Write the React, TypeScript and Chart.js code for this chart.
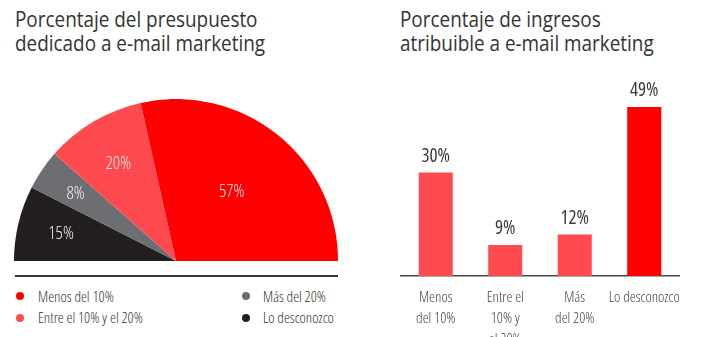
import React, { useEffect, useRef } from "react";
import { Chart, registerables } from "chart.js";
Chart.register(...registerables);

const FAMILY = "'Open Sans', 'DejaVu Sans Condensed', sans-serif";

// Left: share of budget (half pie), ordered clockwise from the left edge
const pieLabels = ["Lo desconozco", "Más del 20%", "Entre el 10% y el 20%", "Menos del 10%"];
const pieValues = [15, 8, 20, 57];
const pieColors = ["#231F20", "#6D6E71", "#FF4B4F", "#FF0000"];

// Legend order (two columns)
const legendLeft = ["Menos del 10%", "Entre el 10% y el 20%"];
const legendLeftColors = ["#FF0000", "#FF4B4F"];
const legendRight = ["Más del 20%", "Lo desconozco"];
const legendRightColors = ["#6D6E71", "#231F20"];

// Right: share of revenue (bars)
const barCategories = [["Menos", "del 10%"], ["Entre el", "10% y", "el 20%"], ["Más", "del 20%"], ["Lo desconozco"]];
const barValues = [30, 9, 12, 49];
const barColors = ["#FF4B4F", "#FF4B4F", "#FF4B4F", "#FF0000"];

const pieLabelPlugin = {
  id: "pieValueLabels",
  afterDatasetsDraw(chart: any, _args: any, opts: any) {
    const meta = chart.getDatasetMeta(0);
    const ctx = chart.ctx;
    ctx.save();
    ctx.font = `condensed 300 18px ${FAMILY}`;
    ctx.fillStyle = "#FCEAEA";
    ctx.textAlign = "center";
    ctx.textBaseline = "alphabetic";
    meta.data.forEach((arc: any, i: number) => {
      const p = arc.getProps(["x", "y", "startAngle", "endAngle", "outerRadius"], true);
      const mid = (p.startAngle + p.endAngle) / 2;
      const f = (opts.radius && opts.radius[i]) || 0.7;
      ctx.fillText(
        chart.data.datasets[0].data[i] + "%",
        p.x + Math.cos(mid) * p.outerRadius * f,
        p.y + Math.sin(mid) * p.outerRadius * f + 6
      );
    });
    ctx.restore();
  },
};

const barLabelPlugin = {
  id: "barValueLabels",
  afterDatasetsDraw(chart: any) {
    const meta = chart.getDatasetMeta(0);
    const ctx = chart.ctx;
    ctx.save();
    ctx.font = `condensed 400 19px ${FAMILY}`;
    ctx.fillStyle = "#3A3A3A";
    ctx.textAlign = "center";
    ctx.textBaseline = "alphabetic";
    meta.data.forEach((bar: any, i: number) => {
      ctx.fillText(chart.data.datasets[0].data[i] + "%", bar.x, bar.y - 11);
    });
    ctx.restore();
  },
};

export default function App() {
  const pieRef = useRef<HTMLCanvasElement>(null);
  const barRef = useRef<HTMLCanvasElement>(null);

  useEffect(() => {
    const pie = new Chart(pieRef.current!, {
      type: "pie",
      data: {
        labels: pieLabels,
        datasets: [{ data: pieValues, backgroundColor: pieColors, borderWidth: 0 }],
      },
      options: {
        responsive: false,
        animation: false,
        rotation: -90,
        circumference: 180,
        layout: { padding: 0 },
        plugins: {
          legend: { display: false },
          tooltip: { enabled: false },
          pieValueLabels: { radius: [0.73, 0.75, 0.7, 0.55] },
        } as any,
      },
      plugins: [pieLabelPlugin],
    });

    const bar = new Chart(barRef.current!, {
      type: "bar",
      data: {
        labels: barCategories as any,
        datasets: [
          {
            data: barValues,
            backgroundColor: barColors,
            borderWidth: 0,
            barPercentage: 0.49,
            categoryPercentage: 1,
          },
        ],
      },
      options: {
        responsive: false,
        animation: false,
        layout: { padding: { left: 11, right: 27, top: 9, bottom: 0 } },
        plugins: { legend: { display: false }, tooltip: { enabled: false } },
        scales: {
          y: { display: false, min: 0, max: 60 },
          x: {
            grid: { display: false },
            border: { display: true, color: "#4A4A4A", width: 1.5 },
            ticks: {
              color: "#444",
              font: { family: FAMILY, weight: "condensed 300" as any, size: 15, lineHeight: 1.4 },
              padding: 3,
              maxRotation: 0,
              minRotation: 0,
              autoSkip: false,
            },
            afterFit: (scale: any) => {
              scale.height = 61;
            },
          },
        },
      },
      plugins: [barLabelPlugin],
    });

    return () => {
      pie.destroy();
      bar.destroy();
    };
  }, []);

  const titleStyle: React.CSSProperties = {
    position: "absolute",
    fontFamily: FAMILY,
    fontWeight: 400,
    fontSize: 21,
    lineHeight: "24px",
    color: "#333",
    whiteSpace: "nowrap",
    transform: "scaleX(0.9)",
    transformOrigin: "left top",
  };
  const legendText: React.CSSProperties = {
    position: "absolute",
    fontFamily: FAMILY,
    fontStretch: "condensed",
    fontWeight: 300,
    fontSize: 15,
    lineHeight: "18px",
    color: "#333",
    whiteSpace: "nowrap",
  };
  const dot = (color: string, x: number, y: number, key: string) => (
    <div
      key={key}
      style={{
        position: "absolute",
        left: x - 4,
        top: y - 4,
        width: 8,
        height: 8,
        borderRadius: 4,
        background: color,
      }}
    />
  );

  return (
    <div style={{ position: "absolute", left: 0, top: 0, width: 706, height: 337, background: "#fff", overflow: "hidden" }}>
      <div style={{ ...titleStyle, left: 15, top: 7 }}>
        Porcentaje del presupuesto
        <br />
        dedicado a e-mail marketing
      </div>
      <div style={{ ...titleStyle, left: 400, top: 7 }}>
        Porcentaje de ingresos
        <br />
        atribuible a e-mail marketing
      </div>
      <canvas ref={pieRef} width={324} height={162} style={{ position: "absolute", left: 14, top: 99 }} />
      <div style={{ position: "absolute", left: 15, top: 275, width: 323, height: 1.5, background: "#333" }} />
      {legendLeft.map((t, i) => dot(legendLeftColors[i], 20, 296 + i * 22, "dl" + i))}
      {legendLeft.map((t, i) => (
        <div key={"tl" + i} style={{ ...legendText, left: 38, top: 287 + i * 21 }}>
          {t}
        </div>
      ))}
      {legendRight.map((t, i) => dot(legendRightColors[i], 246, 296 + i * 22, "dr" + i))}
      {legendRight.map((t, i) => (
        <div key={"tr" + i} style={{ ...legendText, left: 263, top: 287 + i * 21 }}>
          {t}
        </div>
      ))}
      <canvas ref={barRef} width={316} height={277} style={{ position: "absolute", left: 390, top: 60 }} />
    </div>
  );
}
